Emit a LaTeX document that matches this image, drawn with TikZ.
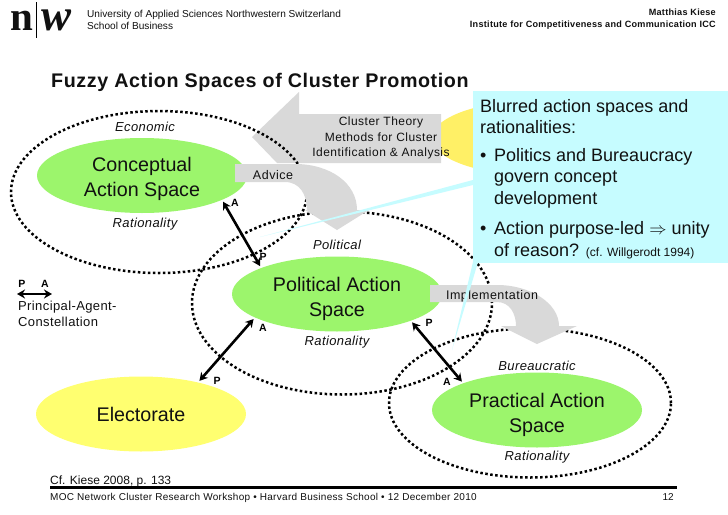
\documentclass[tikz,border=0pt]{standalone}
\usepackage{fontspec}
\setmainfont{Liberation Sans}
\newfontfamily\logofont{Liberation Serif}
\usetikzlibrary{arrows.meta,shapes.geometric}
\definecolor{spacegreen}{HTML}{9CF56C}
\definecolor{votergold}{HTML}{FFFF70}
\definecolor{theorygold}{HTML}{FFF066}
\definecolor{flowgray}{HTML}{D9D9D9}
\definecolor{notecyan}{HTML}{C6FCFF}
\definecolor{ink}{HTML}{111111}
\newcommand{\lowerline}{\rule{0pt}{24pt}}
\tikzset{
  space/.style={ellipse,fill=spacegreen,minimum width=210pt,minimum height=75pt,
                inner sep=0pt,align=center,text=ink,font=\fontsize{19.7}{24.5}\selectfont},
  voter/.style={space,fill=votergold},
  ring/.style={ellipse,draw=black,line width=2.5pt,dash pattern=on 2.5pt off 2.5pt,
               inner sep=0pt},
  flow/.style={fill=flowgray},
  flowtext/.style={font=\fontsize{12.5}{15.6}\selectfont\addfontfeature{LetterSpace=4},
                   align=center,text=ink,inner sep=0pt},
  ratio/.style={font=\fontsize{13}{14}\selectfont\itshape\addfontfeature{LetterSpace=3},
                text=ink,inner sep=0pt},
  role/.style={font=\fontsize{10.5}{12}\selectfont\bfseries,inner sep=0pt},
  pa/.style={{Stealth[length=8pt,width=9pt]}-{Stealth[length=8pt,width=9pt]},
             line width=2.6pt,shorten >=2pt,shorten <=2pt},
  lead/.style={fill=notecyan},
  blurb/.style={anchor=base west,inner sep=0pt,text=ink,align=left,
                font=\fontsize{18}{21.4}\selectfont},
  plain/.style={anchor=base west,inner sep=0pt,text=ink}
}
\begin{document}
\begin{tikzpicture}[x=1pt,y=-1pt]
    \path[use as bounding box,fill=white] (0,0) rectangle (728,514);

    % logo and header
    \node[plain,font=\logofont\fontsize{41}{41}\selectfont\bfseries] (logon) at (10,30) {n};
    \node[plain,font=\logofont\fontsize{45}{45}\selectfont\bfseries\itshape] (logow) at (41,30) {w};
    \draw[line width=0.8pt] (36.5,2) -- (36.5,38);
    \node[plain,font=\fontsize{10.1}{11.5}\selectfont,align=left,anchor=north west] (school) at (87,10)
      {University of Applied Sciences Northwestern Switzerland\\School of Business};
    \node[plain,font=\fontsize{9.1}{12}\selectfont\bfseries\addfontfeature{LetterSpace=3},align=right,anchor=north east] (chair) at (716,9)
      {Matthias Kiese\\Institute for Competitiveness and Communication ICC};
    \node[plain,font=\fontsize{19.7}{20}\selectfont\bfseries\addfontfeature{LetterSpace=3}] (title) at (51,87)
      {Fuzzy Action Spaces of Cluster Promotion};

    \node[voter,fill=theorygold] (theory) at (537,138) {};
    \node[voter] (electorate) at (141,414) {Electorate};

    \fill[flow] (441,114) -- (441,163) -- (277,163) -- (252,137) -- (299,92) -- (299,114) -- cycle;

    \node[ring,minimum width=296pt,minimum height=162pt] (econring) at (159,192) {};
    \node[ring,minimum width=300pt,minimum height=183pt] (polring) at (342,303) {};
    \node[ring,minimum width=282pt,minimum height=149pt] (pracring) at (530,403) {};

    \node[space] (concept) at (142,175.5) {\rule{0pt}{21pt}Conceptual\\Action Space};
    \node[space] (polit) at (337,294) {\lowerline Political Action\\Space};
    \node[space] (pract) at (537,410) {\lowerline Practical Action\\Space};

    % bent arrows
    \fill[flow] (235,164) -- (295,164) .. controls (330,164) and (357,183) .. (357,210)
      -- (369,210) -- (337,230) -- (305,210) -- (307,210)
      .. controls (307,195) and (300,182) .. (285,182) -- (235,182) -- cycle;
    \fill[flow] (430,285) -- (497,285) .. controls (530,285) and (559,303) .. (559,326)
      -- (577,326) -- (537,344) -- (501,326) -- (516,326)
      .. controls (516,314) and (510,302) .. (497,302) -- (430,302) -- cycle;

    \node[flowtext,font=\fontsize{12}{15.6}\selectfont\addfontfeature{LetterSpace=4}] (cluster) at (381,138) {Cluster Theory\\Methods for Cluster\\Identification \& Analysis};
    \node[flowtext] (advice) at (273,175) {Advice};
    \node[flowtext] (implement) at (492,296) {Implementation};

    \node[ratio] (econ) at (145,127) {Economic};
    \node[ratio] (econrat) at (145,224) {Rationality};
    \node[ratio] (pol) at (337,245) {Political};
    \node[ratio] (polrat) at (337,342) {Rationality};
    \node[ratio] (bur) at (537,366) {Bureaucratic};
    \node[ratio] (burrat) at (537,457) {Rationality};

    % principal and agent
    \draw[pa] (concept.-17) -- (polit.161);
    \draw[pa] (polit.196) -- (electorate.29);
    \draw[pa] (polit.-20) -- (pract.160);
    \node[role] (a1) at (235,203) {A};
    \node[role] (p1) at (263,257) {P};
    \node[role] (a2) at (263,328) {A};
    \node[role] (p2) at (217,381) {P};
    \node[role] (p3) at (429,323) {P};
    \node[role] (a3) at (447,382) {A};

    \node[role] (legp) at (22,284) {P};
    \node[role] (lega) at (45,284) {A};
    \coordinate (legl) at (17,294);
    \coordinate (legr) at (52,294);
    \draw[pa,shorten >=0pt,shorten <=0pt] (legl) -- (legr);
    \node[plain,font=\fontsize{13}{16.8}\selectfont\addfontfeature{LetterSpace=3},align=left,anchor=north west] (pagent) at (18,300.5)
      {Principal-Agent-\\Constellation};

    % callout
    \fill[lead] (473,180) -- (473,185) -- (260,237) -- cycle;
    \fill[lead] (473,262) -- (478,262) -- (452,350) -- cycle;
    \node[fill=notecyan,minimum width=255pt,minimum height=172pt,inner sep=0pt,anchor=north west] (note) at (473,91) {};
    \node[blurb] (notehead) at (480,133.5) {Blurred action spaces and\\rationalities:};
    \node[blurb] (bulleta) at (480,161) {\textbullet};
    \node[blurb] (notea) at (494,204) {Politics and Bureaucracy\\govern concept\\development};
    \node[blurb] (bulletb) at (480,234) {\textbullet};
    \node[blurb] (noteb) at (494,256) {Action purpose-led $\Rightarrow$ unity\\of reason? {\fontsize{12}{12}\selectfont (cf. Willgerodt 1994)}};

    % footer
    \node[plain,font=\fontsize{12}{14}\selectfont] (source) at (50,484) {Cf. Kiese 2008, p. 133};
    \draw[line width=3pt] (50,487.5) -- (677,487.5);
    \node[plain,font=\fontsize{10}{12}\selectfont\addfontfeature{LetterSpace=3}] (footer) at (50,500)
      {MOC Network Cluster Research Workshop \textbullet\ Harvard Business School \textbullet\ 12 December 2010};
    \node[plain,font=\fontsize{10}{12}\selectfont,anchor=base east] (page) at (674,500) {12};
\end{tikzpicture}
\end{document}
